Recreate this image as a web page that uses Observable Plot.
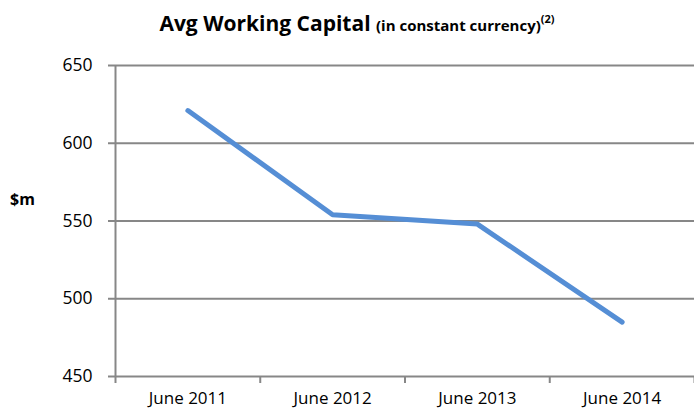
<!DOCTYPE html>
<html>
<head>
<meta charset="utf-8">
<script src="https://cdn.jsdelivr.net/npm/d3@7"></script>
<script src="https://cdn.jsdelivr.net/npm/@observablehq/plot@0.6"></script>
<style>
  html, body { margin: 0; padding: 0; background: #fff; }
  #wrap { position: relative; width: 694px; height: 410px; font-family: "Open Sans", sans-serif; }
  #title { height: 45px; box-sizing: border-box; padding-top: 9px; padding-left: 20px; text-align: center; font-weight: 700; font-size: 21px; color: #000; white-space: nowrap; line-height: 28px; }
  #title .sub { font-size: 15px; }
  #title sup { font-size: 11px; vertical-align: 8px; line-height: 0; }
  #unit { position: absolute; left: 10px; top: 188px; font-weight: 700; font-size: 16px; color: #000; }
  svg { display: block; }
</style>
</head>
<body>
<div id="wrap">
  <div id="title">Avg Working Capital <span class="sub">(in constant currency)<sup>(2)</sup></span></div>
  <div id="unit">$m</div>
  <div id="chart"></div>
</div>
<script>
const categories = ["June 2011", "June 2012", "June 2013", "June 2014"];
const values = [621, 554, 548, 485];
const yTicks = [450, 500, 550, 600, 650];

const data = categories.map((c, i) => ({ pos: i + 0.5, cat: c, value: values[i] }));
const bandEdges = d3.range(categories.length + 1);
const bandCenters = categories.map((c, i) => i + 0.5);

const gray = "#878787";
const chart = Plot.plot({
  width: 694,
  height: 365,
  marginTop: 20,
  marginBottom: 34,
  marginLeft: 115,
  marginRight: 0,
  style: { fontFamily: "Open Sans, sans-serif", fontSize: "14px", color: "#000", background: "#fff" },
  x: { domain: [0, categories.length], axis: null },
  y: { domain: [450, 650], axis: null },
  marks: [
    Plot.ruleY(yTicks, { stroke: gray, strokeWidth: 2 }),
    Plot.ruleX([0], { stroke: gray, strokeWidth: 2 }),
    Plot.axisY({ ticks: yTicks, tickSize: 7, tickPadding: 16, stroke: gray, strokeWidth: 2, strokeOpacity: 1, fontSize: 17.5, label: null, tickFormat: d3.format("d") }),
    Plot.axisX({ ticks: bandEdges, tickSize: 7, stroke: gray, strokeWidth: 2, strokeOpacity: 1, tickFormat: () => "", label: null }),
    Plot.axisX({ ticks: bandCenters, tickSize: 0, tickPadding: 15, fontSize: 17, tickFormat: d => categories[Math.round(d - 0.5)], label: null }),
    Plot.line(data, { x: "pos", y: "value", stroke: "#558ED5", strokeWidth: 5, strokeLinejoin: "round", strokeLinecap: "round" })
  ]
});
document.getElementById("chart").appendChild(chart);
</script>
</body>
</html>
